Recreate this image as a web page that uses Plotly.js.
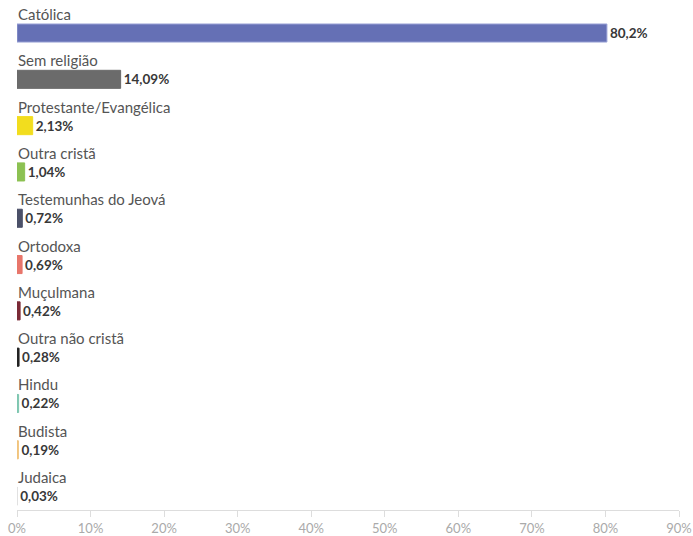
<!DOCTYPE html>
<html>
<head>
<meta charset="utf-8">
<script src="https://cdn.plot.ly/plotly-3.0.1.min.js"></script>
<style>html,body{margin:0;padding:0;background:#fff;}#chart{width:693px;height:536px;}</style>
</head>
<body>
<div id="chart"></div>
<script>
const categories = ["Católica","Sem religião","Protestante/Evangélica","Outra cristã","Testemunhas do Jeová","Ortodoxa","Muçulmana","Outra não cristã","Hindu","Budista","Judaica"];
const values = [80.2, 14.09, 2.13, 1.04, 0.72, 0.69, 0.42, 0.28, 0.22, 0.19, 0.03];
const valueLabels = ["80,2%","14,09%","2,13%","1,04%","0,72%","0,69%","0,42%","0,28%","0,22%","0,19%","0,03%"];
const colors = ["#6570b5","#6b6b6b","#f2dd1e","#8cc152","#4b5068","#e8766b","#7b2a36","#222222","#7ec6b0","#f1c47e","#dddddd"];
const tickVals = [0,10,20,30,40,50,60,70,80,90];
const tickText = ["0%","10%","20%","30%","40%","50%","60%","70%","80%","90%"];

const rows = categories.map((c,i)=>i);
const font = "Lato, 'Open Sans', sans-serif";

const trace = {
  type: 'bar',
  orientation: 'h',
  x: values,
  y: rows,
  width: 0.39,
  marker: {color: colors, line: {color: colors.map((c,i)=> i===0 ? '#9aa2d6' : c), width: 1}},
  text: valueLabels,
  textposition: 'outside',
  cliponaxis: false,
  textfont: {family: font, size: 13.5, color: '#383838', weight: 'bold'},
  hoverinfo: 'none'
};

const annotations = categories.map((c,i)=>({
  xref: 'x', yref: 'y', x: 0, y: i, text: c, showarrow: false,
  xanchor: 'left', yanchor: 'middle', yshift: 19, xshift: -1,
  font: {family: font, size: 15, color: '#555'}
}));

const layout = {
  width: 693, height: 536,
  margin: {l: 17, r: 14, t: 0, b: 26},
  paper_bgcolor: '#fff', plot_bgcolor: '#fff',
  showlegend: false,
  bargap: 0,
  xaxis: {
    range: [0, 90], tickvals: tickVals, ticktext: tickText,
    showgrid: false, zeroline: false, showline: true, linecolor: '#dddddd', linewidth: 1,
    ticks: 'outside', ticklen: 6, tickcolor: '#dddddd',
    tickfont: {family: font, size: 13, color: '#aaaaaa'}
  },
  yaxis: {
    range: [10.30, -0.713], showticklabels: false, showgrid: false, zeroline: false, showline: false, ticks: ''
  },
  annotations: annotations
};

Plotly.newPlot('chart', [trace], layout, {displayModeBar: false, staticPlot: true});
</script>
</body>
</html>
